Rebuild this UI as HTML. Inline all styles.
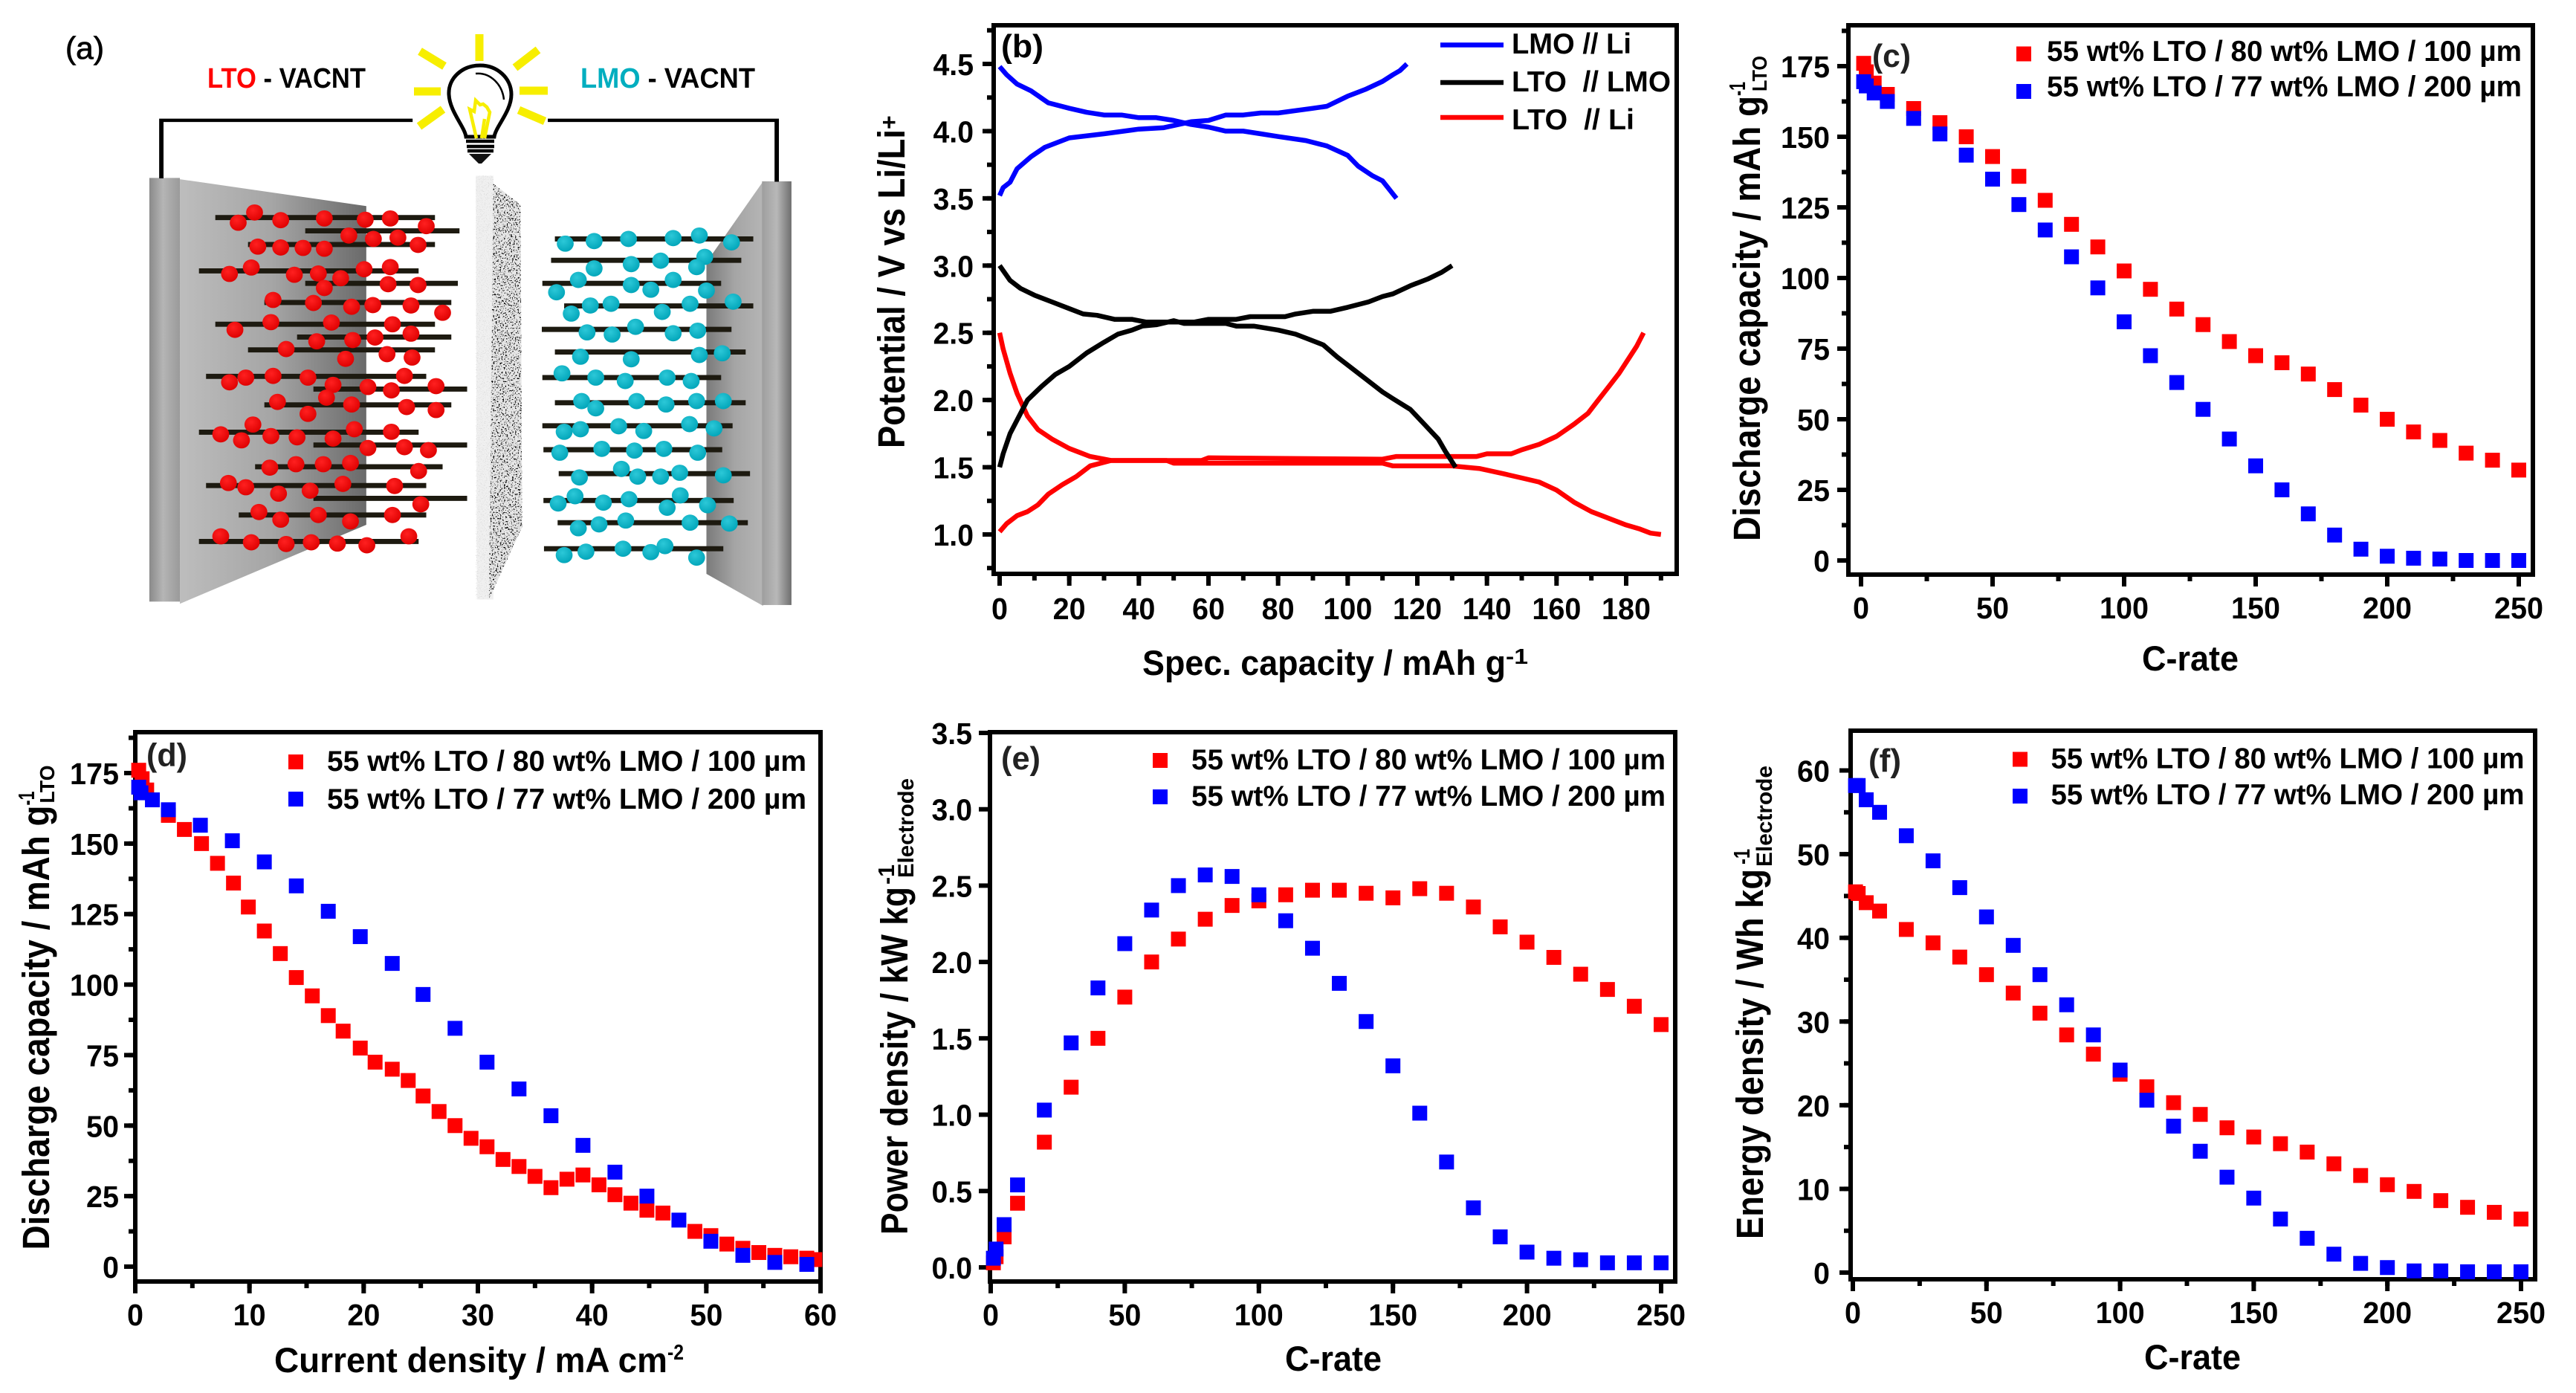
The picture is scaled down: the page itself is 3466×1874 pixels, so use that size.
<!DOCTYPE html>
<html lang="en">
<head>
<meta charset="utf-8">
<title>LTO / LMO VACNT cell and electrochemical performance</title>
<style>
html,body{margin:0;padding:0;background:#fff;}
svg{display:block;}
text{font-family:"Liberation Sans",sans-serif;font-weight:bold;fill:#000;}
</style>
</head>
<body>
<svg id="figure" xmlns="http://www.w3.org/2000/svg" width="3466" height="1874" viewBox="0 0 3466 1874">
<defs>
<linearGradient id="plateL" x1="0" x2="1" y1="0" y2="0"><stop offset="0" stop-color="#8a8a8a"/><stop offset="0.45" stop-color="#b5b5b5"/><stop offset="1" stop-color="#9a9a9a"/></linearGradient>
<linearGradient id="faceL" x1="0" x2="1" y1="0" y2="0"><stop offset="0" stop-color="#bdbdbd"/><stop offset="0.5" stop-color="#a5a5a5"/><stop offset="1" stop-color="#6a6a6a"/></linearGradient>
<linearGradient id="plateR" x1="0" x2="1" y1="0" y2="0"><stop offset="0" stop-color="#9e9e9e"/><stop offset="0.5" stop-color="#b8b8b8"/><stop offset="1" stop-color="#6e6e6e"/></linearGradient>
<linearGradient id="faceR" x1="0" x2="1" y1="0" y2="0"><stop offset="0" stop-color="#7a7a7a"/><stop offset="0.5" stop-color="#a5a5a5"/><stop offset="1" stop-color="#b5b5b5"/></linearGradient>
<radialGradient id="redDot" cx="0.4" cy="0.35" r="0.7"><stop offset="0" stop-color="#ff2020"/><stop offset="1" stop-color="#dd0000"/></radialGradient>
<radialGradient id="cyanDot" cx="0.4" cy="0.35" r="0.7"><stop offset="0" stop-color="#2cc8d8"/><stop offset="1" stop-color="#00a4b8"/></radialGradient>
<filter id="speckle" x="0" y="0" width="100%" height="100%"><feTurbulence type="fractalNoise" baseFrequency="0.4 0.28" numOctaves="2" seed="4"/><feColorMatrix type="matrix" values="0 0 0 0 0  0 0 0 0 0  0 0 0 0 0  8 8 0 0 -8.7"/><feComposite in2="SourceGraphic" operator="over"/></filter>
<filter id="speckleLight" x="0" y="0" width="100%" height="100%"><feTurbulence type="fractalNoise" baseFrequency="0.5" numOctaves="2" seed="9"/><feColorMatrix type="matrix" values="0 0 0 0 0.72  0 0 0 0 0.72  0 0 0 0 0.72  6 6 0 0 -6.6"/><feComposite in2="SourceGraphic" operator="over"/></filter>
</defs>
<rect x="0" y="0" width="3466" height="1874" fill="#fff"/>

<!-- Panel (a): schematic -->
<g id="panel-a">
  <text x="88" y="79" font-size="42" style="font-weight:normal;stroke:#000;stroke-width:0.8" textLength="52" lengthAdjust="spacingAndGlyphs">(a)</text>
  <text x="279" y="118" font-size="38" textLength="213" lengthAdjust="spacingAndGlyphs"><tspan style="fill:#ff0000">LTO</tspan> - VACNT</text>
  <text x="781" y="118" font-size="38" textLength="235" lengthAdjust="spacingAndGlyphs"><tspan style="fill:#00aebf">LMO</tspan> - VACNT</text>
  <g id="schematic" transform="scale(0.7334,0.574)">
    <polygon points="330,420 672,483 672,1230 330,1415" fill="url(#faceL)"/>
    <rect x="274" y="417" width="56" height="993" fill="url(#plateL)"/>
    <polygon points="1400,425 1296,615 1296,1345 1400,1420" fill="url(#faceR)"/>
    <rect x="1398" y="425" width="54" height="993" fill="url(#plateR)"/>
    <polygon points="873,412 905,412 905,1405 875,1405" fill="#f0f0f0" filter="url(#speckleLight)"/>
    <polygon points="905,430 955,480 958,1235 897,1405 905,1405" fill="#f0f0f0"/>
    <clipPath id="sepClip"><polygon points="905,430 955,480 958,1235 897,1405"/></clipPath>
    <g clip-path="url(#sepClip)"><rect x="895" y="425" width="70" height="985" fill="#e6e6e6" filter="url(#speckle)"/></g>
    <path d="M296,418V282H757" fill="none" stroke="#000" stroke-width="8"/>
    <path d="M1005,282H1425V426" fill="none" stroke="#000" stroke-width="8"/>
    <g id="cnt-left"></g>
    <g id="cnt-right"></g>
  </g>
  <g>
    <g stroke="#f7ee00" stroke-width="11" fill="none">
      <path d="M645,46V82"/><path d="M565,69L598,89"/><path d="M724,67L693,91"/><path d="M557,123H593"/><path d="M699,122H737"/><path d="M596,147L564,170"/><path d="M698,148L733,163"/>
    </g>
    <path d="M627,184C625,170 605,150 604,127C603,105 622,88 646,88C669,88 688,105 688,127C688,150 667,170 665,184Z" fill="#fff" stroke="#000" stroke-width="5"/>
    <path d="M641,186L632,147L638,150L640,135L646,141L650,140L655,144L659,151L652,186M648,186L652,160" fill="none" stroke="#f7ee00" stroke-width="4.5"/>
    <path d="M640,99C660,97 676,114 678,134" fill="none" stroke="#000" stroke-width="2.5"/>
    <path d="M627,190H665M628,197H665M629,203H664" stroke="#000" stroke-width="4.5" fill="none"/>
    <polygon points="631,207 661,207 648,220 644,220" fill="#111"/>
  </g>
</g>

<!-- Panel (b) -->
<g id="panel-b">
  <g id="b-axes"></g>
  <g id="b-curves"></g>
  <text x="1347" y="77" font-size="44" textLength="57" lengthAdjust="spacingAndGlyphs">(b)</text>
  <g transform="translate(1217,603) rotate(-90)">
    <text x="0" y="0" font-size="51" textLength="429" lengthAdjust="spacingAndGlyphs">Potential / V vs Li/Li</text>
    <text x="429" y="-10" font-size="32">+</text>
  </g>
  <text x="1537" y="908" font-size="47" textLength="489" lengthAdjust="spacingAndGlyphs">Spec. capacity / mAh g</text>
  <text x="2026" y="893" font-size="29" textLength="30" lengthAdjust="spacingAndGlyphs">-1</text>
  <g>
    <line x1="1938" x2="2023" y1="60.5" y2="60.5" stroke="#0000ff" stroke-width="6.5"/>
    <line x1="1938" x2="2023" y1="111" y2="111" stroke="#000" stroke-width="6.5"/>
    <line x1="1938" x2="2023" y1="158" y2="158" stroke="#ff0000" stroke-width="6.5"/>
    <text x="2034" y="72" font-size="39" textLength="161" lengthAdjust="spacingAndGlyphs">LMO // Li</text>
    <text x="2034" y="123" font-size="39" textLength="214" lengthAdjust="spacingAndGlyphs" xml:space="preserve">LTO  // LMO</text>
    <text x="2034" y="174" font-size="39" textLength="165" lengthAdjust="spacingAndGlyphs" xml:space="preserve">LTO  // Li</text>
  </g>
</g>

<!-- Panel (c) -->
<g id="panel-c">
  <g id="c-plot"></g>
  <text x="2519" y="90" font-size="44" style="fill:#222" textLength="52" lengthAdjust="spacingAndGlyphs">(c)</text>
  <g transform="translate(2368,728) rotate(-90)">
    <text x="0" y="0" font-size="51" textLength="599" lengthAdjust="spacingAndGlyphs">Discharge capacity / mAh g</text>
    <text x="599" y="-20" font-size="31" textLength="19" lengthAdjust="spacingAndGlyphs">-1</text>
    <text x="605" y="9" font-size="28" textLength="48" lengthAdjust="spacingAndGlyphs">LTO</text>
  </g>
  <text x="2882" y="902" font-size="47" textLength="130" lengthAdjust="spacingAndGlyphs">C-rate</text>
  <g>
    <rect x="2713" y="62.5" width="20" height="20" fill="#ff0000"/>
    <rect x="2713" y="113" width="20" height="20" fill="#0000ff"/>
    <text x="2754" y="82" font-size="39" textLength="639" lengthAdjust="spacingAndGlyphs">55 wt% LTO / 80 wt% LMO / 100 µm</text>
    <text x="2754" y="129.5" font-size="39" textLength="639" lengthAdjust="spacingAndGlyphs">55 wt% LTO / 77 wt% LMO / 200 µm</text>
  </g>
</g>

<!-- Panel (d) -->
<g id="panel-d">
  <g id="d-plot"></g>
  <text x="197" y="1030.5" font-size="44" style="fill:#222" textLength="55" lengthAdjust="spacingAndGlyphs">(d)</text>
  <g transform="translate(66,1681.5) rotate(-90)">
    <text x="0" y="0" font-size="51" textLength="598" lengthAdjust="spacingAndGlyphs">Discharge capacity / mAh g</text>
    <text x="598" y="-20" font-size="31" textLength="19" lengthAdjust="spacingAndGlyphs">-1</text>
    <text x="601" y="7" font-size="28" textLength="51" lengthAdjust="spacingAndGlyphs">LTO</text>
  </g>
  <text x="369" y="1846" font-size="47" textLength="529" lengthAdjust="spacingAndGlyphs">Current density / mA cm</text>
  <text x="898" y="1829" font-size="29" textLength="22" lengthAdjust="spacingAndGlyphs">-2</text>
  <g>
    <rect x="388" y="1015" width="20" height="20" fill="#ff0000"/>
    <rect x="388" y="1065" width="20" height="20" fill="#0000ff"/>
    <text x="440" y="1037" font-size="39" textLength="645" lengthAdjust="spacingAndGlyphs">55 wt% LTO / 80 wt% LMO / 100 µm</text>
    <text x="440" y="1088" font-size="39" textLength="645" lengthAdjust="spacingAndGlyphs">55 wt% LTO / 77 wt% LMO / 200 µm</text>
  </g>
</g>

<!-- Panel (e) -->
<g id="panel-e">
  <g id="e-plot"></g>
  <text x="1347" y="1035" font-size="44" style="fill:#222" textLength="53" lengthAdjust="spacingAndGlyphs">(e)</text>
  <g transform="translate(1221,1661) rotate(-90)">
    <text x="0" y="0" font-size="51" textLength="468" lengthAdjust="spacingAndGlyphs">Power density / kW kg</text>
    <text x="471" y="-18" font-size="31" textLength="27" lengthAdjust="spacingAndGlyphs">-1</text>
    <text x="480" y="8" font-size="30" textLength="134" lengthAdjust="spacingAndGlyphs">Electrode</text>
  </g>
  <text x="1729" y="1844" font-size="47" textLength="130" lengthAdjust="spacingAndGlyphs">C-rate</text>
  <g>
    <rect x="1551" y="1013" width="20" height="20" fill="#ff0000"/>
    <rect x="1551" y="1062" width="20" height="20" fill="#0000ff"/>
    <text x="1603" y="1035" font-size="39" textLength="638" lengthAdjust="spacingAndGlyphs">55 wt% LTO / 80 wt% LMO / 100 µm</text>
    <text x="1603" y="1084" font-size="39" textLength="638" lengthAdjust="spacingAndGlyphs">55 wt% LTO / 77 wt% LMO / 200 µm</text>
  </g>
</g>

<!-- Panel (f) -->
<g id="panel-f">
  <g id="f-plot"></g>
  <text x="2514" y="1038" font-size="44" style="fill:#222" textLength="44" lengthAdjust="spacingAndGlyphs">(f)</text>
  <g transform="translate(2372,1667) rotate(-90)">
    <text x="0" y="0" font-size="51" textLength="498" lengthAdjust="spacingAndGlyphs">Energy density / Wh kg</text>
    <text x="504" y="-18" font-size="31" textLength="21" lengthAdjust="spacingAndGlyphs">-1</text>
    <text x="501" y="12" font-size="30" textLength="136" lengthAdjust="spacingAndGlyphs">Electrode</text>
  </g>
  <text x="2885" y="1842" font-size="47" textLength="130" lengthAdjust="spacingAndGlyphs">C-rate</text>
  <g>
    <rect x="2708" y="1011.5" width="20" height="20" fill="#ff0000"/>
    <rect x="2708" y="1061" width="20" height="20" fill="#0000ff"/>
    <text x="2759.5" y="1033.5" font-size="39" textLength="637" lengthAdjust="spacingAndGlyphs">55 wt% LTO / 80 wt% LMO / 100 µm</text>
    <text x="2759.5" y="1082" font-size="39" textLength="637" lengthAdjust="spacingAndGlyphs">55 wt% LTO / 77 wt% LMO / 200 µm</text>
  </g>
</g>
</svg>

<script>
/* ---------- chart data ---------- */
const cRates = [1,2,5,10,20,30,40,50,60,70,80,90,100,110,120,130,140,150,160,170,180,190,200,210,220,230,240,250];

const capacityRed = [176,173,169,165,160,155,150,143,136,127.5,119,111,102.5,96,89,83.5,77.5,72.5,70,66,60.5,55,50,45.5,42.5,38,35.5,32];
const capacityBlue = [169.5,168,165.5,162.5,156.5,151,143.5,135,126,117,107.5,96.5,84.5,72.5,63,53.5,43,33.5,25,16.5,9,4,1.5,0.8,0.5,0,0,0];

const currentRedX = [0.3,0.6,1.0,2.9,4.3,5.8,7.2,8.6,9.9,11.3,12.7,14.1,15.5,16.9,18.2,19.7,21,22.5,23.9,25.2,26.6,28,29.4,30.8,32.2,33.6,35,36.4,37.8,39.2,40.6,42,43.4,44.8,46.2,49,50.4,51.8,53.2,54.6,56,57.4,58.8,59.5];
const currentRedY = [176,173,169,160,155,150,143,136,127.5,119,111,102.5,96,89,83.5,77.5,72.5,70,66,60.5,55,50,45.5,42.5,38,35.5,32,28,31,32.5,29,25.5,22.5,20,19,12.5,11,8,6.5,5,4,3.5,3,2.5];
const currentBlueX = [0.3,0.5,1.5,2.9,5.7,8.5,11.3,14.1,16.9,19.7,22.5,25.2,28,30.8,33.6,36.4,39.2,42,44.8,47.6,50.4,53.2,56,58.8];
const currentBlueY = [170,168,165.5,162,156.5,151,143.5,135,126,117,107.5,96.5,84.5,72.5,63,53.5,43,33.5,25,16.5,9,4,1.5,0.8];

const powerRed = [0.03,0.07,0.2,0.42,0.82,1.18,1.5,1.77,2.0,2.15,2.28,2.37,2.4,2.44,2.47,2.47,2.45,2.42,2.48,2.45,2.36,2.23,2.13,2.03,1.92,1.82,1.71,1.59];
const powerBlue = [0.06,0.12,0.28,0.54,1.03,1.47,1.83,2.12,2.34,2.5,2.57,2.56,2.44,2.27,2.09,1.86,1.61,1.32,1.01,0.69,0.39,0.2,0.1,0.06,0.05,0.03,0.03,0.03];

const energyRed = [45.5,45.3,44.2,43.2,41,39.4,37.7,35.6,33.4,31,28.4,26.1,23.7,22.2,20.3,18.9,17.3,16.2,15.4,14.4,13,11.6,10.5,9.7,8.6,7.8,7.2,6.4];
const energyBlue = [58.2,58.2,56.5,55,52.2,49.2,46,42.5,39.1,35.6,32,28.4,24.2,20.6,17.5,14.5,11.4,8.9,6.4,4.1,2.2,1.1,0.6,0.2,0.2,0.1,0.1,0.1];

const lmoChargeCap = [0,1,3,5,9,13,20,30,40,47,55,60,65,70,75,80,90,94,100,105,110,113,115,117];
const lmoChargeV = [3.52,3.58,3.62,3.72,3.81,3.88,3.95,3.98,4.015,4.025,4.07,4.08,4.12,4.12,4.135,4.135,4.17,4.185,4.26,4.31,4.37,4.42,4.45,4.5];
const lmoDischargeCap = [0,2,5,9,14,20,25,30,35,40,45,50,55,60,65,70,75,80,88,94,100,103,107,110,114];
const lmoDischargeV = [4.48,4.42,4.35,4.3,4.21,4.17,4.14,4.12,4.12,4.1,4.1,4.08,4.05,4.03,4.0,4.0,3.98,3.96,3.93,3.89,3.82,3.74,3.67,3.63,3.5];
const fullChargeCap = [0,3,6,10,15,20,24,28,33,38,42,50,56,60,68,72,82,85,90,95,100,106,110,113,118,123,127,130];
const fullChargeV = [3.0,2.89,2.83,2.78,2.73,2.68,2.64,2.63,2.6,2.6,2.58,2.58,2.58,2.6,2.6,2.62,2.62,2.64,2.66,2.66,2.69,2.73,2.77,2.79,2.85,2.9,2.95,3.0];
const fullDischargeCap = [0,1,3,5,8,12,16,20,25,30,34,38,41,45,50,53,65,68,73,80,85,88,93,97,100,105,110,113,118,122,126,128,131];
const fullDischargeV = [1.5,1.6,1.75,1.85,2.0,2.1,2.19,2.25,2.35,2.43,2.49,2.52,2.55,2.56,2.59,2.57,2.57,2.55,2.55,2.52,2.49,2.46,2.41,2.32,2.26,2.16,2.06,2.01,1.93,1.82,1.71,1.62,1.5];
const ltoDownCap = [0,1,3,5,8,11,15,20,23,26,32,48,50,110,113,130,134,138,145,150,155,160,165,170,175,180,184,187,190];
const ltoDownV = [2.5,2.38,2.2,2.05,1.88,1.78,1.71,1.64,1.61,1.58,1.55,1.55,1.53,1.53,1.51,1.51,1.5,1.49,1.45,1.42,1.39,1.33,1.24,1.17,1.12,1.07,1.04,1.01,1.0];
const ltoUpCap = [0,2,5,8,11,14,18,22,26,32,58,60,110,114,137,140,147,150,155,160,165,169,172,175,178,181,183,185];
const ltoUpV = [1.02,1.08,1.14,1.17,1.22,1.3,1.37,1.43,1.51,1.55,1.55,1.57,1.56,1.58,1.58,1.6,1.6,1.63,1.67,1.73,1.82,1.9,2.0,2.1,2.2,2.32,2.4,2.5];

const voltageXTicks = [0,20,40,60,80,100,120,140,160,180];
const voltageYTicks = ["1.0","1.5","2.0","2.5","3.0","3.5","4.0","4.5"];
const crateXTicks = [0,50,100,150,200,250];
const capacityYTicks = [0,25,50,75,100,125,150,175];
const currentXTicks = [0,10,20,30,40,50,60];
const powerYTicks = ["0.0","0.5","1.0","1.5","2.0","2.5","3.0","3.5"];
const energyYTicks = [0,10,20,30,40,50,60];

/* ---------- schematic data (illustration, not chart data) ---------- */
const tubesLeft = [[395,798,510],[560,843,541],[455,798,573],[365,768,635],[560,840,664],[485,828,709],[395,798,760],[545,828,790],[455,798,820],[378,782,882],[575,857,912],[485,828,949],[365,768,1013],[575,857,1043],[468,812,1094],[378,782,1138],[575,857,1168],[438,782,1207],[365,768,1269]];
const dotsLeft = [[467,498],[437,522],[515,516],[595,512],[670,515],[716,512],[782,530],[640,552],[685,560],[730,557],[767,574],[473,578],[515,580],[556,581],[595,583],[421,642],[461,627],[540,644],[584,641],[625,652],[668,631],[716,626],[712,666],[767,668],[595,675],[501,703],[575,710],[645,719],[684,715],[754,716],[812,733],[431,773],[497,755],[608,756],[720,760],[754,782],[581,800],[647,797],[688,791],[525,818],[634,841],[710,830],[756,838],[421,896],[451,885],[501,881],[565,885],[611,902],[742,881],[675,907],[718,915],[800,905],[509,942],[599,932],[645,948],[746,954],[800,961],[565,970],[464,995],[405,1018],[443,1032],[497,1022],[545,1025],[611,1028],[650,1006],[718,1012],[675,1050],[742,1048],[786,1055],[495,1096],[543,1088],[593,1088],[643,1085],[768,1104],[419,1132],[451,1142],[511,1157],[569,1150],[629,1134],[724,1139],[772,1182],[475,1200],[515,1218],[584,1207],[643,1222],[720,1207],[405,1257],[461,1271],[525,1275],[571,1271],[619,1274],[673,1278],[750,1257]];
const tubesRight = [[1018,1382,560],[1011,1360,610],[995,1323,664],[1035,1382,717],[994,1342,772],[1018,1368,825],[995,1323,885],[1018,1368,944],[995,1344,998],[997,1325,1054],[1025,1376,1110],[997,1346,1173],[1023,1372,1225],[998,1327,1286]];
const dotsRight = [[1037,571],[1090,565],[1153,560],[1235,558],[1283,552],[1342,568],[1293,602],[1090,629],[1158,619],[1212,611],[1278,626],[1061,656],[1021,685],[1158,668],[1194,679],[1235,656],[1296,681],[1083,716],[1121,712],[1048,735],[1215,731],[1266,712],[1345,707],[1077,779],[1123,784],[1166,766],[1235,781],[1280,775],[1065,836],[1158,842],[1283,832],[1325,828],[1031,875],[1093,885],[1147,893],[1224,885],[1268,893],[1067,940],[1093,957],[1168,940],[1222,948],[1278,940],[1327,940],[1035,1012],[1065,1006],[1135,999],[1181,1010],[1265,994],[1310,1004],[1027,1061],[1104,1052],[1164,1056],[1218,1052],[1280,1061],[1063,1119],[1140,1099],[1170,1117],[1212,1117],[1247,1108],[1327,1114],[1024,1180],[1055,1163],[1107,1178],[1154,1170],[1248,1161],[1224,1190],[1298,1184],[1061,1238],[1099,1229],[1148,1220],[1266,1225],[1338,1227],[1035,1301],[1075,1293],[1143,1286],[1194,1294],[1220,1280],[1278,1307]];

/* ---------- helpers ---------- */
const NS = "http://www.w3.org/2000/svg";
function make(tag, parent, attrs) {
  const el = document.createElementNS(NS, tag);
  for (const k in attrs) el.setAttribute(k, attrs[k]);
  parent.appendChild(el);
  return el;
}
function linear(v0, p0, v1, p1) {
  return function (v) { return p0 + (v - v0) * (p1 - p0) / (v1 - v0); };
}
function labelWidth(label) {
  let w = 0;
  for (const c of String(label)) w += (c === "." ? 10.5 : 22);
  return w;
}
function drawAxes(parent, box, sx, sy, xTicks, yTicks, xMinorStep, yMinorStep, xBase, yRight) {
  const frame = make("rect", parent, {x: box.l, y: box.t, width: box.r - box.l, height: box.b - box.t, fill: "none", stroke: "#000", "stroke-width": 6});
  
  
  if (xMinorStep) {
    for (let k = 0; k < 80; k++) {
      const v = Number(xTicks[0]) + k * xMinorStep;
      const p = sx(v);
      if (p > box.r - 8) break;
      const t = make("line", parent, {x1: p, x2: p, y1: box.b, y2: box.b + 9, stroke: "#000", "stroke-width": 6});
      
      
    }
  }
  if (yMinorStep) {
    for (let k = -4; k < 80; k++) {
      const v = Number(yTicks[0]) + k * yMinorStep;
      const p = sy(v);
      if (p > box.b - 4) continue;
      if (p < box.t + 2) break;
      const t = make("line", parent, {x1: box.l, x2: box.l - 9, y1: p, y2: p, stroke: "#000", "stroke-width": 6});
      
      
    }
  }
  xTicks.forEach(function (label) {
    const p = sx(Number(label));
    const t = make("line", parent, {x1: p, x2: p, y1: box.b, y2: box.b + 16, stroke: "#000", "stroke-width": 6});
    
    
    const txt = make("text", parent, {x: p, y: xBase, "font-size": 41, "text-anchor": "middle", textLength: labelWidth(label), lengthAdjust: "spacingAndGlyphs"});
    txt.textContent = label;
    
    
  });
  yTicks.forEach(function (label) {
    const p = sy(Number(label));
    const t = make("line", parent, {x1: box.l, x2: box.l - 15, y1: p, y2: p, stroke: "#000", "stroke-width": 6});
    
    
    const txt = make("text", parent, {x: yRight, y: p + 15, "font-size": 41, "text-anchor": "end", textLength: labelWidth(label), lengthAdjust: "spacingAndGlyphs"});
    txt.textContent = label;
    
    
  });
}
function drawSquares(parent, xs, ys, sx, sy, color, name) {
  xs.forEach(function (x, i) {
    const px = sx(x), py = sy(ys[i]);
    const r = make("rect", parent, {x: px - 10, y: py - 10, width: 20, height: 20, fill: color});
    
    
  });
}
function drawCurve(parent, xs, ys, sx, sy, color, name) {
  const pts = xs.map(function (x, i) { return sx(x).toFixed(1) + "," + sy(ys[i]).toFixed(1); }).join(" ");
  const line = make("polyline", parent, {points: pts, fill: "none", stroke: color, "stroke-width": 6.5, "stroke-linejoin": "round"});
  
  
}
function drawTubes(parent, tubes, dots, fill, dotName) {
  tubes.forEach(function (t) {
    const l = make("line", parent, {x1: t[0], x2: t[1], y1: t[2], y2: t[2], stroke: "#1d1a10", "stroke-width": 12});
    
    
  });
  dots.forEach(function (d) {
    const e = make("ellipse", parent, {cx: d[0], cy: d[1], rx: 15.5, ry: 19, fill: fill});
    
    
  });
}

/* ---------- schematic ---------- */
drawTubes(document.getElementById("cnt-left"), tubesLeft, dotsLeft, "url(#redDot)", "lto-particle");
drawTubes(document.getElementById("cnt-right"), tubesRight, dotsRight, "url(#cyanDot)", "lmo-particle");

/* ---------- panel b ---------- */
(function () {
  const box = {l: 1337, r: 2256, t: 34, b: 772};
  const sx = linear(0, 1345, 180, 2188);
  const sy = linear(1, 719, 4.5, 86);
  drawAxes(document.getElementById("b-axes"), box, sx, sy, voltageXTicks, voltageYTicks, 10, 0.25, 833, 1310);
  const g = document.getElementById("b-curves");
  drawCurve(g, ltoDownCap, ltoDownV, sx, sy, "#ff0000", "lto-li-discharge-curve");
  drawCurve(g, ltoUpCap, ltoUpV, sx, sy, "#ff0000", "lto-li-charge-curve");
  drawCurve(g, fullChargeCap, fullChargeV, sx, sy, "#000000", "lto-lmo-charge-curve");
  drawCurve(g, fullDischargeCap, fullDischargeV, sx, sy, "#000000", "lto-lmo-discharge-curve");
  drawCurve(g, lmoChargeCap, lmoChargeV, sx, sy, "#0000ff", "lmo-li-charge-curve");
  drawCurve(g, lmoDischargeCap, lmoDischargeV, sx, sy, "#0000ff", "lmo-li-discharge-curve");
})();

/* ---------- panel c ---------- */
(function () {
  const g = document.getElementById("c-plot");
  const box = {l: 2487, r: 3408, t: 34, b: 773};
  const sx = linear(0, 2504, 250, 3389);
  const sy = linear(0, 754, 175, 89);
  drawAxes(g, box, sx, sy, crateXTicks, capacityYTicks, 25, 12.5, 832, 2462);
  drawSquares(g, cRates, capacityRed, sx, sy, "#ff0000", "capacity-point-100um");
  drawSquares(g, cRates, capacityBlue, sx, sy, "#0000ff", "capacity-point-200um");
})();

/* ---------- panel d ---------- */
(function () {
  const g = document.getElementById("d-plot");
  const box = {l: 182, r: 1104, t: 985, b: 1724};
  const sx = linear(0, 182, 60, 1104);
  const sy = linear(0, 1704, 175, 1040);
  drawAxes(g, box, sx, sy, currentXTicks, capacityYTicks, 5, 12.5, 1783, 160);
  drawSquares(g, currentRedX, currentRedY, sx, sy, "#ff0000", "current-point-100um");
  drawSquares(g, currentBlueX, currentBlueY, sx, sy, "#0000ff", "current-point-200um");
})();

/* ---------- panel e ---------- */
(function () {
  const g = document.getElementById("e-plot");
  const box = {l: 1332, r: 2254, t: 985, b: 1724};
  const sx = linear(0, 1333, 250, 2235);
  const sy = linear(0, 1705, 3.5, 986);
  drawAxes(g, box, sx, sy, crateXTicks, powerYTicks, 25, 0, 1783, 1308);
  drawSquares(g, cRates, powerRed, sx, sy, "#ff0000", "power-point-100um");
  drawSquares(g, cRates, powerBlue, sx, sy, "#0000ff", "power-point-200um");
})();

/* ---------- panel f ---------- */
(function () {
  const g = document.getElementById("f-plot");
  const box = {l: 2490, r: 3411, t: 983, b: 1721};
  const sx = linear(0, 2493, 250, 3392);
  const sy = linear(0, 1712, 60, 1036.5);
  drawAxes(g, box, sx, sy, crateXTicks, energyYTicks, 25, 5, 1780, 2462);
  drawSquares(g, cRates, energyRed, sx, sy, "#ff0000", "energy-point-100um");
  drawSquares(g, cRates, energyBlue, sx, sy, "#0000ff", "energy-point-200um");
})();
</script>
</body>
</html>
